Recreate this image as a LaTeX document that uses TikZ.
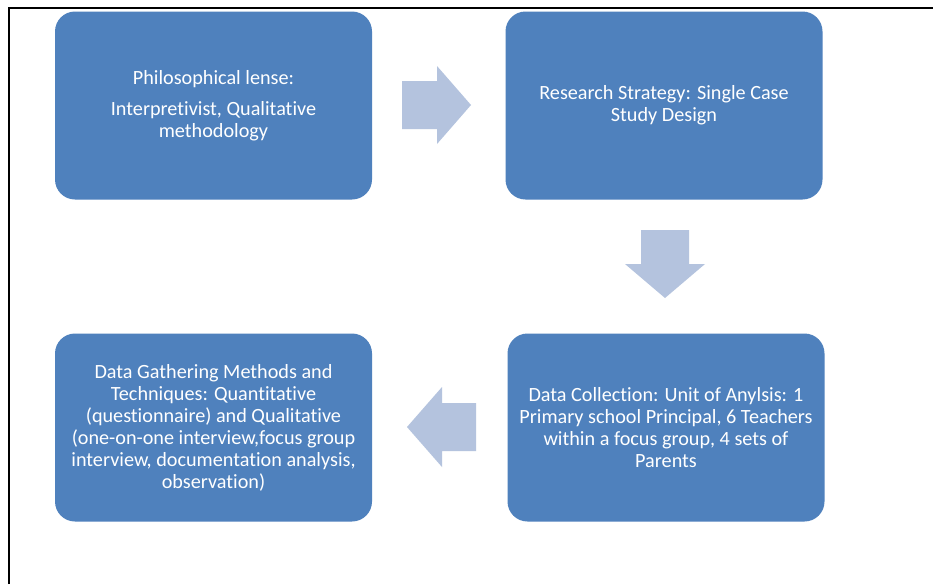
\documentclass[tikz,border=0pt]{standalone}
\usepackage{fontspec}
\setmainfont[Ligatures={NoCommon}]{Carlito}
\definecolor{boxblue}{RGB}{79,129,189}
\definecolor{arrowblue}{RGB}{180,195,222}
\tikzset{
  stagebox/.style={draw=none, fill=boxblue, rounded corners=20pt, minimum width=317pt, minimum height=188pt, text=white, align=center, inner sep=0pt, font=\fontsize{20.2}{22}\selectfont},
  blockarrow/.style={fill=arrowblue, draw=none}
}
\begin{document}
\begin{tikzpicture}[x=1pt,y=-1pt]
\useasboundingbox (0,0) rectangle (933,584);
\fill[white] (0,0) rectangle (933,584);
\draw[line width=2pt] (8.5,584) -- (8.5,7.5) -- (933,7.5);
\node[stagebox] (phil) at (213.5,105.5) {Philosophical lense:\\[9pt]Interpretivist, Qualitative\\methodology};
\node[stagebox] (strat) at (664,105.5) {Research Strategy: Single Case\\Study Design};
\node[stagebox] (coll) at (666,427.5) {Data Collection: Unit of Anylsis: 1\\Primary school Principal, 6 Teachers\\within a focus group, 4 sets of\\Parents};
\node[stagebox] (gath) at (213.5,427.5) {Data Gathering Methods and\\Techniques: Quantitative\\(questionnaire) and Qualitative\\(one-on-one interview,focus group\\interview, documentation analysis,\\observation)};
% right arrow
\fill[blockarrow] (402,81) -- (437,81) -- (437,66) -- (471,105) -- (437,144) -- (437,129) -- (402,129) -- cycle;
% down arrow
\fill[blockarrow] (641,230) -- (689,230) -- (689,264) -- (705,264) -- (665,298) -- (625,264) -- (641,264) -- cycle;
% left arrow
\fill[blockarrow] (476,403) -- (442,403) -- (442,387) -- (407,427) -- (442,467) -- (442,451) -- (476,451) -- cycle;
\end{tikzpicture}
\end{document}
